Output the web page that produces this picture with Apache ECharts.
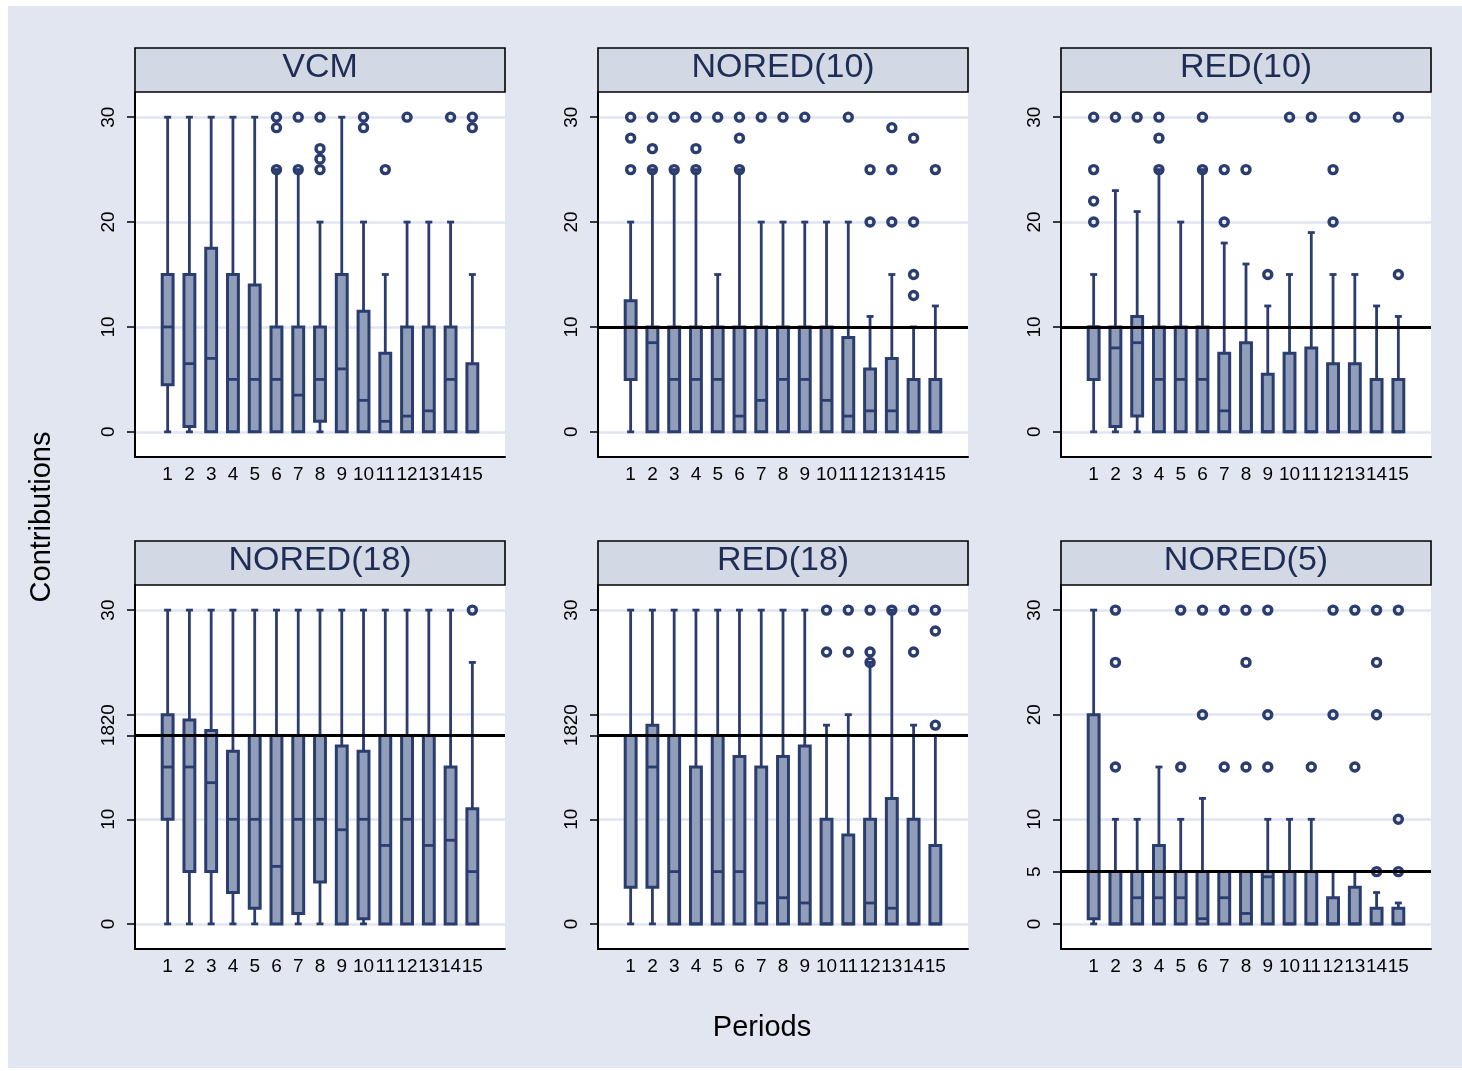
<!DOCTYPE html>
<html>
<head>
<meta charset="utf-8">
<script src="https://cdn.jsdelivr.net/npm/echarts@6/dist/echarts.min.js"></script>
<style>
  html, body { margin: 0; padding: 0; background: #ffffff; }
  #chart { width: 1462px; height: 1071px; }
</style>
</head>
<body>
<div id="chart"></div>
<script>
// ---- data -------------------------------------------------------------
const periods = ['1','2','3','4','5','6','7','8','9','10','11','12','13','14','15'];

// Each row: [lower adjacent, 25th pct, median, 75th pct, upper adjacent]
const vcmBoxes = [
  [0, 4.5, 10, 15, 30], [0, 0.5, 6.5, 15, 30], [0, 0, 7, 17.5, 30], [0, 0, 5, 15, 30],
  [0, 0, 5, 14, 30], [0, 0, 5, 10, 25], [0, 0, 3.5, 10, 25], [0, 1, 5, 10, 20],
  [0, 0, 6, 15, 30], [0, 0, 3, 11.5, 20], [0, 0, 1, 7.5, 15], [0, 0, 1.5, 10, 20],
  [0, 0, 2, 10, 20], [0, 0, 5, 10, 20], [0, 0, 0, 6.5, 15]
];
const vcmOutliers = [
  [6, 25], [6, 29], [6, 30], [7, 25], [7, 30], [8, 25], [8, 26], [8, 27], [8, 30],
  [10, 29], [10, 30], [11, 25], [12, 30], [14, 30], [15, 29], [15, 30]
];

const nored10Boxes = [
  [0, 5, 10, 12.5, 20], [0, 0, 8.5, 10, 25], [0, 0, 5, 10, 25], [0, 0, 5, 10, 25],
  [0, 0, 5, 10, 15], [0, 0, 1.5, 10, 25], [0, 0, 3, 10, 20], [0, 0, 5, 10, 20],
  [0, 0, 5, 10, 20], [0, 0, 3, 10, 20], [0, 0, 1.5, 9, 20], [0, 0, 2, 6, 11],
  [0, 0, 2, 7, 15], [0, 0, 0, 5, 10], [0, 0, 0, 5, 12]
];
const nored10Outliers = [
  [1, 25], [1, 28], [1, 30], [2, 25], [2, 27], [2, 30], [3, 25], [3, 30],
  [4, 25], [4, 27], [4, 30], [5, 30], [6, 25], [6, 28], [6, 30], [7, 30],
  [8, 30], [9, 30], [11, 30], [12, 20], [12, 25], [13, 20], [13, 25], [13, 29],
  [14, 13], [14, 15], [14, 20], [14, 28], [15, 25]
];

const red10Boxes = [
  [0, 5, 10, 10, 15], [0, 0.5, 8, 10, 23], [0, 1.5, 8.5, 11, 21], [0, 0, 5, 10, 25],
  [0, 0, 5, 10, 20], [0, 0, 5, 10, 25], [0, 0, 2, 7.5, 18], [0, 0, 0, 8.5, 16],
  [0, 0, 0, 5.5, 12], [0, 0, 0, 7.5, 15], [0, 0, 0, 8, 19], [0, 0, 0, 6.5, 15],
  [0, 0, 0, 6.5, 15], [0, 0, 0, 5, 12], [0, 0, 0, 5, 11]
];
const red10Outliers = [
  [1, 20], [1, 22], [1, 25], [1, 30], [2, 30], [3, 30], [4, 25], [4, 28], [4, 30],
  [6, 25], [6, 30], [7, 20], [7, 25], [8, 25], [9, 15], [10, 30], [11, 30],
  [12, 20], [12, 25], [13, 30], [15, 15], [15, 30]
];

const nored18Boxes = [
  [0, 10, 15, 20, 30], [0, 5, 15, 19.5, 30], [0, 5, 13.5, 18.5, 30], [0, 3, 10, 16.5, 30],
  [0, 1.5, 10, 18, 30], [0, 0, 5.5, 18, 30], [0, 1, 10, 18, 30], [0, 4, 10, 18, 30],
  [0, 0, 9, 17, 30], [0, 0.5, 10, 16.5, 30], [0, 0, 7.5, 18, 30], [0, 0, 10, 18, 30],
  [0, 0, 7.5, 18, 30], [0, 0, 8, 15, 30], [0, 0, 5, 11, 25]
];
const nored18Outliers = [[15, 30]];

const red18Boxes = [
  [0, 3.5, 18, 18, 30], [0, 3.5, 15, 19, 30], [0, 0, 5, 18, 30], [0, 0, 0, 15, 30],
  [0, 0, 5, 18, 30], [0, 0, 5, 16, 30], [0, 0, 2, 15, 30], [0, 0, 2.5, 16, 30],
  [0, 0, 2, 17, 30], [0, 0, 0, 10, 19], [0, 0, 0, 8.5, 20], [0, 0, 2, 10, 25],
  [0, 0, 1.5, 12, 30], [0, 0, 0, 10, 19], [0, 0, 0, 7.5, 18]
];
const red18Outliers = [
  [10, 26], [10, 30], [11, 26], [11, 30], [12, 25], [12, 26], [12, 30], [13, 30],
  [14, 26], [14, 30], [15, 19], [15, 28], [15, 30]
];

const nored5Boxes = [
  [0, 0.5, 5, 20, 30], [0, 0, 0, 5, 10], [0, 0, 2.5, 5, 10], [0, 0, 2.5, 7.5, 15],
  [0, 0, 2.5, 5, 10], [0, 0, 0.5, 5, 12], [0, 0, 2.5, 5, 5], [0, 0, 1, 5, 5],
  [0, 0, 4.5, 5, 10], [0, 0, 0, 5, 10], [0, 0, 0, 5, 10], [0, 0, 0, 2.5, 5],
  [0, 0, 0, 3.5, 5], [0, 0, 0, 1.5, 3], [0, 0, 0, 1.5, 2]
];
const nored5Outliers = [
  [2, 15], [2, 25], [2, 30], [5, 15], [5, 30], [6, 20], [6, 30], [7, 15], [7, 30],
  [8, 15], [8, 25], [8, 30], [9, 15], [9, 20], [9, 30], [11, 15], [12, 20], [12, 30],
  [13, 15], [13, 30], [14, 5], [14, 20], [14, 25], [14, 30], [15, 5], [15, 10], [15, 30]
];

const panelTitles = ['VCM', 'NORED(10)', 'RED(10)', 'NORED(18)', 'RED(18)', 'NORED(5)'];
const panelTicks = [
  [0, 10, 20, 30], [0, 10, 20, 30], [0, 10, 20, 30],
  [0, 10, 18, 20, 30], [0, 10, 18, 20, 30], [0, 5, 10, 20, 30]
];
const panelRefLines = [null, 10, 10, 18, 18, 5];
const panelBoxes = [vcmBoxes, nored10Boxes, red10Boxes, nored18Boxes, red18Boxes, nored5Boxes];
const panelOutliers = [vcmOutliers, nored10Outliers, red10Outliers, nored18Outliers, red18Outliers, nored5Outliers];

// ---- style & layout -----------------------------------------------------
const NAVY = '#2a3d6e';
const BOX_FILL = '#919eb9';
const BG = '#e1e6f0';
const STRIP = '#d3d9e4';
const GRID_LINE = '#e1e5f1';
const FONT = '"Liberation Sans", Arial, Helvetica, sans-serif';

const colLeft = [135, 598, 1061];
const rowTop = [92, 585];
const rowHeight = [365, 364];
const plotWidth = 370;
const stripHeight = 44;

// one empty slot either side of the periods keeps the boxes off the frame
const xCategories = [' '].concat(periods, ['  ']);

function drawBox(params, api) {
  const x = api.value(0);
  const lo = api.value(1), q1 = api.value(2), md = api.value(3), q3 = api.value(4), hi = api.value(5);
  const cx = api.coord([x, 0])[0];
  const y = v => api.coord([x, v])[1];
  const half = api.size([1, 0])[0] * 0.25;
  const capHalf = 3.5;
  const ln = { stroke: NAVY, lineWidth: 2.8 };
  const kids = [];
  if (hi > q3) {
    kids.push({ type: 'line', shape: { x1: cx, y1: y(q3), x2: cx, y2: y(hi) }, style: ln });
    kids.push({ type: 'line', shape: { x1: cx - capHalf, y1: y(hi), x2: cx + capHalf, y2: y(hi) }, style: ln });
  }
  if (lo < q1) {
    kids.push({ type: 'line', shape: { x1: cx, y1: y(q1), x2: cx, y2: y(lo) }, style: ln });
    kids.push({ type: 'line', shape: { x1: cx - capHalf, y1: y(lo), x2: cx + capHalf, y2: y(lo) }, style: ln });
  }
  kids.push({
    type: 'rect',
    shape: { x: cx - half, y: y(q3), width: half * 2, height: y(q1) - y(q3) },
    style: { fill: BOX_FILL, stroke: NAVY, lineWidth: 3 }
  });
  kids.push({ type: 'line', shape: { x1: cx - half, y1: y(md), x2: cx + half, y2: y(md) }, style: ln });
  return { type: 'group', children: kids };
}

const grids = [], xAxes = [], yAxes = [], series = [], graphics = [];

graphics.push({ type: 'rect', silent: true, z: -10,
  shape: { x: 8, y: 6, width: 1454, height: 1062 }, style: { fill: BG } });

panelTitles.forEach((title, i) => {
  const r = Math.floor(i / 3), c = i % 3;
  const left = colLeft[c], top = rowTop[r], h = rowHeight[r];
  grids.push({
    left: left, top: top, width: plotWidth, height: h,
    show: true, backgroundColor: '#ffffff', borderWidth: 0,
    containLabel: false, outerBoundsMode: 'none'
  });
  xAxes.push({
    gridIndex: i, type: 'category', data: xCategories, boundaryGap: true,
    axisLine: { show: true, onZero: false, lineStyle: { color: '#000', width: 2 } },
    axisTick: { show: false },
    axisLabel: { interval: 0, fontSize: 19, color: '#000', margin: 8, fontFamily: FONT },
    splitLine: { show: false }
  });
  yAxes.push({
    gridIndex: i, type: 'value', min: -2.4, max: 32.4,
    axisLine: { show: true, onZero: false, lineStyle: { color: '#000', width: 2 } },
    axisTick: { show: true, length: 8, customValues: panelTicks[i], lineStyle: { color: '#000', width: 1.5 } },
    axisLabel: { customValues: panelTicks[i], rotate: 90, fontSize: 19, color: '#000', margin: 17, fontFamily: FONT },
    splitLine: { show: true, lineStyle: { color: GRID_LINE, width: 2.5 } }
  });
  series.push({
    type: 'custom', xAxisIndex: i, yAxisIndex: i, z: 2, silent: true,
    renderItem: drawBox,
    encode: { x: 0, y: [1, 2, 3, 4, 5] },
    data: panelBoxes[i].map((b, k) => [k + 1].concat(b))
  });
  const sc = {
    type: 'scatter', xAxisIndex: i, yAxisIndex: i, z: 3, silent: true,
    symbol: 'circle', symbolSize: 8,
    itemStyle: { color: 'rgba(255,255,255,0)', borderColor: NAVY, borderWidth: 3.4, opacity: 1 },
    data: panelOutliers[i]
  };
  if (panelRefLines[i] !== null) {
    sc.markLine = {
      silent: true, symbol: 'none', animation: false, label: { show: false },
      lineStyle: { color: '#000', width: 3, type: 'solid' },
      data: [{ yAxis: panelRefLines[i] }]
    };
  }
  series.push(sc);

  const stripY = top - stripHeight;
  graphics.push({ type: 'rect', silent: true,
    shape: { x: left, y: stripY, width: plotWidth, height: stripHeight },
    style: { fill: STRIP, stroke: '#000', lineWidth: 1.6 } });
  graphics.push({ type: 'text', silent: true, x: left + plotWidth / 2, y: stripY + 20,
    style: { text: title, fill: '#1f2c55', font: '34px ' + FONT, align: 'center', verticalAlign: 'middle' } });
});

graphics.push({ type: 'text', silent: true, x: 42, y: 517, rotation: Math.PI / 2,
  style: { text: 'Contributions', fill: '#000', font: '29px ' + FONT, align: 'center', verticalAlign: 'middle' } });
graphics.push({ type: 'text', silent: true, x: 762, y: 1028,
  style: { text: 'Periods', fill: '#000', font: '29px ' + FONT, align: 'center', verticalAlign: 'middle' } });

const chart = echarts.init(document.getElementById('chart'), null, { renderer: 'canvas' });
chart.setOption({
  animation: false,
  backgroundColor: '#ffffff',
  grid: grids,
  xAxis: xAxes,
  yAxis: yAxes,
  series: series,
  graphic: graphics
});
</script>
</body>
</html>
